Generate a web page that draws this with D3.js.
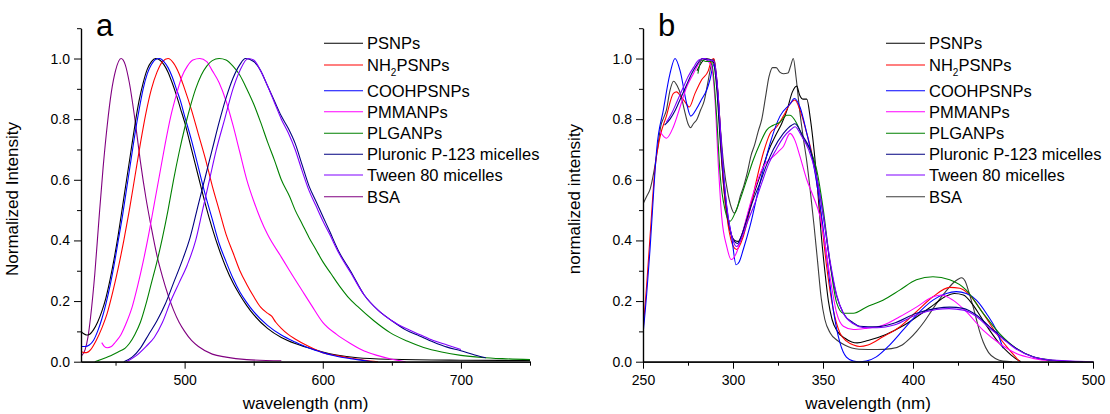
<!DOCTYPE html>
<html>
<head>
<meta charset="utf-8">
<script src="https://cdn.jsdelivr.net/npm/d3@7"></script>
<style>
  body { margin: 0; background: #fff; }
  svg { display: block; }
  text { font-family: "Liberation Sans", Arial, sans-serif; fill: #000; }
</style>
</head>
<body>
<div id="chart"></div>
<script>
const width = 1110;
const height = 414;

// ---- data, panel a (emission, wavelength nm : normalized intensity)
const aPSNPs = [[425,0.10],[427,0.092],[429,0.088],[431,0.09],[434,0.105],[437,0.13],[440,0.165],[443,0.21],[446,0.27],[449,0.34],[452,0.42],[455,0.51],[458,0.60],[461,0.69],[464,0.78],[467,0.86],[470,0.92],[473,0.965],[476,0.99],[479,1.0],[482,0.995],[485,0.98],[488,0.955],[491,0.92],[494,0.88],[497,0.835],[500,0.79],[505,0.70],[510,0.61],[515,0.52],[520,0.44],[525,0.37],[530,0.31],[535,0.26],[540,0.22],[545,0.185],[550,0.155],[560,0.11],[570,0.08],[580,0.06],[590,0.045],[600,0.032],[610,0.022],[625,0.013],[650,0.008],[700,0.005],[750,0.004]];
const aNH2 = [[425,0.035],[427,0.03],[429,0.03],[432,0.04],[436,0.07],[440,0.11],[444,0.16],[448,0.23],[452,0.31],[456,0.40],[460,0.50],[464,0.61],[468,0.72],[472,0.82],[476,0.90],[480,0.955],[484,0.99],[488,1.0],[492,0.985],[496,0.95],[500,0.90],[505,0.83],[510,0.75],[515,0.67],[520,0.58],[525,0.50],[530,0.42],[535,0.36],[540,0.30],[545,0.255],[550,0.215],[555,0.18],[560,0.16],[563,0.15],[566,0.13],[570,0.11],[575,0.09],[580,0.075],[590,0.05],[600,0.03],[610,0.02],[620,0.012],[630,0.005],[640,0.0]];
const aCOOH = [[425,0.05],[428,0.05],[431,0.055],[434,0.07],[437,0.10],[440,0.14],[443,0.19],[446,0.25],[449,0.32],[452,0.40],[455,0.48],[458,0.57],[461,0.66],[464,0.75],[467,0.83],[470,0.90],[473,0.95],[476,0.98],[479,0.997],[482,1.0],[485,0.99],[488,0.97],[491,0.94],[494,0.90],[497,0.86],[500,0.81],[505,0.73],[510,0.64],[515,0.55],[520,0.47],[525,0.39],[530,0.33],[535,0.275],[540,0.23],[545,0.195],[550,0.165],[560,0.12],[570,0.088],[580,0.065],[590,0.045],[600,0.03],[610,0.018],[620,0.01],[636,0.0]];
const aPMMA = [[440,0.063],[442,0.05],[444,0.046],[447,0.05],[450,0.065],[454,0.09],[458,0.13],[462,0.18],[466,0.25],[470,0.33],[474,0.42],[478,0.52],[482,0.62],[486,0.72],[490,0.81],[494,0.88],[498,0.94],[502,0.975],[506,0.995],[511,1.0],[516,0.99],[520,0.96],[525,0.92],[530,0.86],[535,0.78],[540,0.69],[545,0.60],[550,0.53],[555,0.47],[560,0.42],[570,0.345],[576,0.30],[585,0.235],[592,0.185],[600,0.13],[610,0.09],[620,0.06],[630,0.035],[640,0.02],[650,0.008],[660,0.0]];
const aPLGA = [[435,0.0],[440,0.008],[445,0.017],[450,0.028],[454,0.037],[457,0.045],[460,0.06],[464,0.09],[468,0.13],[472,0.19],[476,0.26],[480,0.33],[484,0.41],[488,0.50],[492,0.60],[496,0.69],[500,0.77],[504,0.84],[508,0.90],[512,0.945],[516,0.975],[520,0.993],[525,1.0],[530,0.995],[535,0.975],[540,0.945],[545,0.90],[550,0.85],[555,0.79],[560,0.725],[565,0.665],[570,0.60],[576,0.545],[580,0.50],[585,0.455],[590,0.41],[595,0.37],[600,0.33],[606,0.29],[612,0.25],[618,0.215],[625,0.183],[637,0.135],[649,0.095],[661,0.068],[673,0.047],[686,0.032],[700,0.021],[715,0.014],[730,0.01],[750,0.007]];
const aP123 = [[456,0.0],[462,0.015],[468,0.045],[474,0.09],[480,0.135],[486,0.19],[492,0.26],[498,0.33],[504,0.41],[510,0.52],[515,0.61],[520,0.70],[525,0.79],[530,0.87],[535,0.935],[540,0.98],[544,1.0],[550,0.99],[555,0.96],[560,0.91],[565,0.86],[570,0.81],[575,0.77],[580,0.72],[585,0.65],[590,0.58],[595,0.53],[600,0.48],[605,0.43],[612,0.36],[620,0.30],[630,0.22],[640,0.17],[650,0.135],[660,0.105],[670,0.085],[680,0.065],[690,0.048],[700,0.036],[710,0.022],[718,0.013]];
const aTween = [[458,0.0],[465,0.02],[472,0.05],[478,0.08],[484,0.13],[490,0.20],[496,0.26],[502,0.32],[508,0.40],[513,0.50],[518,0.60],[523,0.70],[529,0.80],[535,0.90],[540,0.96],[546,1.0],[550,0.995],[555,0.96],[560,0.91],[565,0.855],[570,0.80],[575,0.755],[580,0.70],[585,0.63],[590,0.565],[595,0.515],[600,0.465],[605,0.42],[612,0.355],[620,0.295],[630,0.22],[640,0.17],[650,0.135],[660,0.11],[670,0.09],[680,0.07],[690,0.055],[700,0.04]];
const aBSA = [[425.5,0.02],[428,0.04],[430,0.08],[432,0.15],[435,0.29],[438,0.47],[441,0.64],[444,0.78],[447,0.89],[450,0.96],[454,1.0],[457,0.98],[460,0.92],[464,0.80],[468,0.66],[472,0.54],[476,0.44],[480,0.35],[484,0.28],[488,0.22],[492,0.17],[496,0.13],[500,0.10],[505,0.07],[510,0.05],[520,0.025],[530,0.015],[545,0.007],[570,0.003]];

// ---- data, panel b (excitation)
const bPSNPs = [[280,0.96],[285,1.0],[289,0.99],[291,0.90],[293,0.72],[295,0.57],[297,0.47],[299,0.42],[301,0.40],[303,0.397],[305,0.42],[308,0.48],[312,0.56],[316,0.63],[320,0.70],[324,0.75],[327,0.785],[330,0.83],[333,0.89],[335.4,0.909],[337,0.88],[339,0.866],[341,0.866],[343,0.80],[345,0.70],[347,0.57],[349,0.42],[351,0.30],[353,0.20],[355,0.14],[358,0.10],[362,0.078],[366,0.065],[369,0.062],[375,0.07],[385,0.09],[395,0.12],[405,0.16],[412,0.19],[418,0.215],[423,0.225],[428,0.22],[433,0.19],[438,0.145],[443,0.10],[448,0.06],[453,0.03],[457,0.01],[460,0.0]];
const bNH2 = [[250,0.10],[252,0.25],[254,0.42],[256.7,0.64],[259.4,0.74],[263,0.81],[266.9,0.885],[268.7,0.89],[271,0.875],[273.3,0.857],[275.7,0.84],[278.9,0.885],[282.6,0.93],[286.3,0.96],[288.1,0.995],[289.4,1.0],[290.5,0.95],[292,0.86],[294.6,0.59],[297.4,0.446],[300.2,0.38],[302,0.37],[305.7,0.413],[309.4,0.50],[313.1,0.60],[316.9,0.69],[320.6,0.753],[324.3,0.775],[328,0.81],[331.7,0.85],[334.4,0.863],[337.2,0.83],[341,0.753],[344.6,0.665],[348.3,0.512],[352,0.315],[355.7,0.172],[359.4,0.095],[363.1,0.068],[367,0.055],[370.4,0.05],[375,0.055],[383.3,0.082],[392.6,0.115],[401.9,0.165],[411.1,0.214],[420.4,0.245],[426,0.242],[431.5,0.22],[438.9,0.16],[446.3,0.093],[453.7,0.038],[459.3,0.0]];
const bCOOH = [[250,0.09],[252,0.22],[253.9,0.37],[255.8,0.55],[257.6,0.70],[261.3,0.83],[265,0.95],[267.8,1.0],[270.6,0.96],[274.3,0.85],[276.5,0.81],[279.8,0.835],[282.5,0.865],[285.4,0.896],[287.2,0.93],[289.3,0.98],[290.5,0.95],[292,0.85],[293.7,0.70],[296.5,0.51],[299.3,0.41],[301.7,0.32],[303.5,0.33],[305.7,0.37],[309.4,0.446],[315,0.59],[320.6,0.72],[326.1,0.81],[331.7,0.85],[334.1,0.868],[337.2,0.84],[341,0.753],[344.6,0.655],[348.3,0.52],[352,0.35],[355.7,0.172],[359.4,0.063],[363,0.015],[366.9,0.002],[370,0.0],[374,0.002],[379.6,0.016],[387,0.055],[394.4,0.104],[401.9,0.154],[411.1,0.203],[418.5,0.225],[424,0.231],[429.6,0.225],[435.2,0.203],[440.7,0.16],[446.3,0.104],[450,0.045]];
const bPMMA = [[259.4,0.76],[263,0.737],[266.9,0.775],[270.6,0.84],[274.3,0.907],[278,0.95],[281.7,0.99],[283.5,1.0],[286.3,0.99],[288,0.975],[290,0.863],[291.9,0.644],[293.7,0.48],[296.5,0.38],[299,0.337],[302,0.36],[305.7,0.435],[311.3,0.556],[316.9,0.644],[322.4,0.677],[325.2,0.693],[328,0.71],[331.7,0.753],[334.4,0.73],[337.2,0.677],[341,0.60],[344.6,0.545],[348.3,0.48],[351.1,0.39],[353.9,0.28],[357.6,0.16],[361.3,0.117],[366.9,0.106],[374,0.11],[383.3,0.12],[392.6,0.148],[401.9,0.18],[411.1,0.214],[415.7,0.22],[422.2,0.203],[429.6,0.165],[438.9,0.104],[448.1,0.06],[457.4,0.027],[466.7,0.011],[476,0.003],[490.7,0.0]];
const bPLGA = [[280.5,0.95],[282.6,0.995],[285,0.99],[288,0.99],[290.9,0.81],[292.8,0.62],[295.6,0.50],[298.3,0.463],[301.1,0.49],[303.9,0.534],[307.6,0.60],[311.3,0.666],[315,0.72],[318.7,0.764],[322.4,0.78],[326.1,0.79],[329.8,0.813],[331.7,0.813],[335.4,0.786],[339,0.737],[342.8,0.70],[346.5,0.633],[350.2,0.50],[353.9,0.326],[357.6,0.194],[361.3,0.16],[366.9,0.16],[374,0.18],[383.3,0.203],[392.6,0.236],[401.9,0.27],[411.1,0.28],[420.4,0.27],[429.6,0.236],[438.9,0.16],[448.1,0.093],[457.4,0.044],[466.7,0.016],[476,0.006],[485,0.0]];
const bP123 = [[262,0.78],[265,0.80],[268,0.83],[271,0.87],[274,0.91],[277,0.95],[280,0.98],[283,1.0],[286,0.995],[289,0.995],[291,0.92],[293,0.74],[295,0.58],[297,0.48],[299,0.42],[301,0.395],[302.5,0.39],[305,0.42],[307.6,0.468],[311,0.53],[315,0.59],[318.7,0.65],[322.4,0.70],[328,0.753],[332.6,0.78],[334.4,0.785],[339,0.742],[342.8,0.70],[346.5,0.61],[350.2,0.48],[353.9,0.326],[357.6,0.216],[361.3,0.16],[366.9,0.128],[370.4,0.117],[379.6,0.115],[388.9,0.126],[401.9,0.16],[413,0.176],[420.4,0.18],[427.8,0.176],[435.2,0.154],[442.6,0.115],[450,0.077],[457.4,0.044],[466.7,0.016],[476,0.005],[494.4,0.0]];
const bTween = [[263,0.79],[266,0.82],[269,0.86],[272,0.90],[275,0.94],[278,0.97],[281,0.995],[284,1.0],[287,0.995],[289.5,0.99],[291.5,0.90],[293.5,0.72],[295.5,0.57],[297.5,0.47],[299.5,0.41],[302,0.38],[305,0.41],[308,0.46],[312,0.52],[316,0.59],[320,0.655],[324,0.70],[328,0.74],[332,0.765],[334.5,0.775],[338,0.745],[342,0.70],[346,0.62],[350,0.49],[354,0.33],[357.6,0.22],[361.3,0.16],[366.9,0.125],[372,0.113],[380,0.112],[390,0.122],[402,0.155],[413,0.172],[420,0.175],[428,0.17],[435,0.15],[442,0.113],[450,0.075],[457,0.043],[466,0.017],[476,0.006],[488,0.002],[500,0.0]];
const bBSA = [[250,0.52],[252,0.545],[254,0.57],[256,0.625],[258,0.70],[260,0.78],[261.5,0.805],[263,0.83],[265,0.895],[267,0.925],[269,0.91],[271,0.88],[273,0.83],[275,0.785],[276.5,0.772],[278,0.785],[280,0.80],[282,0.83],[284,0.86],[286,0.92],[288,0.98],[289.5,0.997],[291,0.93],[293,0.77],[295,0.64],[297,0.56],[299,0.51],[300.7,0.49],[302.5,0.51],[304,0.545],[306,0.58],[308,0.625],[310,0.68],[312,0.715],[314,0.76],[316,0.80],[318,0.87],[320,0.94],[322,0.97],[324,0.97],[326,0.955],[328,0.95],[330.5,0.952],[332,0.975],[333.5,1.0],[335,0.94],[337,0.83],[339,0.74],[341,0.66],[343,0.56],[345,0.45],[347,0.33],[349,0.21],[351,0.14],[354,0.095],[358,0.07],[362,0.055],[366,0.045],[370,0.041],[380,0.04],[388,0.043],[394,0.055],[398,0.075],[402,0.10],[406,0.13],[410,0.165],[414,0.20],[418,0.23],[422,0.258],[425,0.272],[427,0.277],[429,0.265],[431,0.23],[433,0.19],[435,0.145],[437,0.10],[439,0.065],[442,0.03],[446,0.01],[450,0.002],[455,0.0]];

const names = ["PSNPs", "NH2PSNPs", "COOHPSNPs", "PMMANPs", "PLGANPs", "Pluronic P-123 micelles", "Tween 80 micelles", "BSA"];
const colorsA = ["#000000", "#ff0000", "#0000ff", "#ff00ff", "#008000", "#000080", "#8000ff", "#800080"];
const colorsB = ["#000000", "#ff0000", "#0000ff", "#ff00ff", "#008000", "#000080", "#8000ff", "#3c3c3c"];
const seriesA = [aPSNPs, aNH2, aCOOH, aPMMA, aPLGA, aP123, aTween, aBSA];
const seriesB = [bPSNPs, bNH2, bCOOH, bPMMA, bPLGA, bP123, bTween, bBSA];

const svg = d3.select("#chart")
  .append("svg")
  .attr("width", width)
  .attr("height", height);

const yTop = 28.2, yBottom = 361.7;

function drawPanel(opt) {
  const x = d3.scaleLinear().domain(opt.xDomain).range([opt.left, opt.right]);
  const y = d3.scaleLinear().domain([0, 1.1]).range([yBottom, yTop]);

  const plot = svg.append("g");
  const clipId = "clip-" + opt.letter;
  svg.append("clipPath").attr("id", clipId)
    .append("rect")
    .attr("x", opt.left).attr("y", yTop - 5)
    .attr("width", opt.right - opt.left).attr("height", yBottom - yTop + 5);

  const line = d3.line()
    .x(d => x(d[0]))
    .y(d => y(d[1]))
    .curve(d3.curveMonotoneX);

  // draw BSA first (it sits under the others)
  const order = [7, 0, 1, 2, 3, 4, 5, 6];
  order.forEach(i => {
    plot.append("path")
      .attr("clip-path", `url(#${clipId})`)
      .attr("d", line(opt.series[i]))
      .attr("fill", "none")
      .attr("stroke", opt.colors[i])
      .attr("stroke-width", 1.1);
  });

  // y axis: major + minor ticks
  svg.append("g")
    .attr("transform", `translate(${opt.left},0)`)
    .call(d3.axisLeft(y).tickValues([0.1, 0.3, 0.5, 0.7, 0.9, 1.1]).tickSize(4).tickSizeOuter(0).tickFormat(""));
  const yg = svg.append("g")
    .attr("transform", `translate(${opt.left},0)`)
    .call(d3.axisLeft(y).tickValues([0, 0.2, 0.4, 0.6, 0.8, 1.0]).tickSize(7).tickSizeOuter(0)
      .tickPadding(4).tickFormat(d3.format(".1f")));
  yg.selectAll("text").attr("font-size", "14px");

  // x axis
  svg.append("g")
    .attr("transform", `translate(0,${yBottom})`)
    .call(d3.axisBottom(x).tickValues(opt.minor).tickSize(4).tickSizeOuter(0).tickFormat(""));
  const xg = svg.append("g")
    .attr("transform", `translate(0,${yBottom})`)
    .call(d3.axisBottom(x).tickValues(opt.major).tickSize(7).tickSizeOuter(0).tickPadding(6));
  xg.selectAll("text").attr("font-size", "14px");

  svg.selectAll(".domain").attr("stroke", "#000").attr("stroke-width", 1.2);
  svg.selectAll(".tick line").attr("stroke", "#000");

  // axis titles
  svg.append("text")
    .attr("x", (opt.left + opt.right) / 2)
    .attr("y", 409)
    .attr("text-anchor", "middle")
    .attr("font-size", "17px")
    .text("wavelength (nm)");

  svg.append("text")
    .attr("transform", `translate(${opt.left - 63},${199}) rotate(-90)`)
    .attr("text-anchor", "middle")
    .attr("font-size", "17px")
    .text(opt.yTitle);

  // panel letter
  svg.append("text")
    .attr("x", opt.left + 15)
    .attr("y", 36)
    .attr("font-family", "'Open Sans', sans-serif")
    .attr("font-size", "31px")
    .text(opt.letter);

  // legend
  const rowY = [43.3, 65, 90.7, 111.7, 133.3, 154.3, 175, 196.7];
  const lg = svg.append("g");
  names.forEach((n, i) => {
    lg.append("line")
      .attr("x1", opt.legendX).attr("x2", opt.legendX + 39)
      .attr("y1", rowY[i]).attr("y2", rowY[i])
      .attr("stroke", opt.colors[i]).attr("stroke-width", 1.1);
    const t = lg.append("text")
      .attr("x", opt.legendX + 43)
      .attr("y", rowY[i] + 6)
      .attr("font-size", "16.5px");
    if (n === "NH2PSNPs") {
      t.append("tspan").text("NH");
      t.append("tspan").attr("font-size", "10px").attr("dy", 5).text("2");
      t.append("tspan").attr("dy", -5).text("PSNPs");
    } else {
      t.text(n);
    }
  });
}

drawPanel({
  letter: "a", left: 81, right: 530, xDomain: [425, 750],
  major: [500, 600, 700], minor: [450, 550, 650, 750],
  series: seriesA, colors: colorsA, legendX: 324,
  yTitle: "Normalized Intensity"
});

drawPanel({
  letter: "b", left: 643, right: 1093, xDomain: [250, 500],
  major: [250, 300, 350, 400, 450, 500], minor: [275, 325, 375, 425, 475],
  series: seriesB, colors: colorsB, legendX: 886,
  yTitle: "normalized intensity"
});
</script>
</body>
</html>
